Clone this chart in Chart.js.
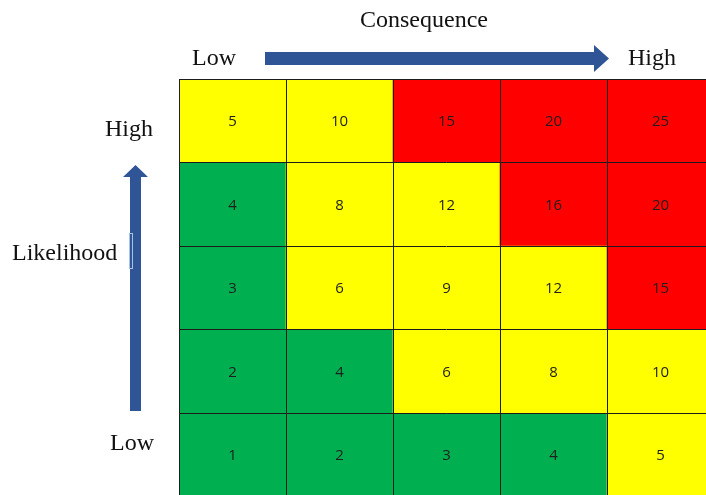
<!DOCTYPE html>
<html>
<head>
<meta charset="utf-8">
<title>Risk matrix</title>
<script src="https://cdn.jsdelivr.net/npm/chart.js@4/dist/chart.umd.min.js"></script>
<style>
    html, body { margin: 0; padding: 0; background: #fff; overflow: hidden; }
    #wrap { position: relative; width: 706px; height: 495px; overflow: hidden; }
    #riskChart { position: absolute; left: 0; top: 0; }
</style>
</head>
<body>
<div id="wrap"><canvas id="riskChart" width="740" height="500"></canvas></div>
<script>
// Consequence across, likelihood up (row 0 = likelihood 1, bottom row)
const consequenceLevels = ['1', '2', '3', '4', '5'];
const likelihoodLevels = ['1', '2', '3', '4', '5'];
const riskScores = [
    [1, 2, 3, 4, 5],
    [2, 4, 6, 8, 10],
    [3, 6, 9, 12, 15],
    [4, 8, 12, 16, 20],
    [5, 10, 15, 20, 25]
];
const riskRatings = [
    ['L', 'L', 'L', 'L', 'M'],
    ['L', 'L', 'M', 'M', 'M'],
    ['L', 'M', 'M', 'M', 'H'],
    ['L', 'M', 'M', 'H', 'H'],
    ['M', 'M', 'H', 'H', 'H']
];
const ratingColors = { L: '#00b050', M: '#ffff00', H: '#ff0000' };

const arrowBlue = '#2f5597';
const serif = '"Liberation Serif", "DejaVu Serif", serif';

// numbers in the middle of each cell
const cellLabels = {
    id: 'cellLabels',
    afterDraw(chart) {
        const ctx = chart.ctx;
        ctx.save();
        ctx.font = '15px "Open Sans", "Liberation Sans", sans-serif';
        ctx.fillStyle = '#1e1e1e';
        ctx.textAlign = 'center';
        ctx.textBaseline = 'middle';
        chart.data.datasets.forEach((ds, i) => {
            chart.getDatasetMeta(i).data.forEach((bar, j) => {
                ctx.fillText(String(riskScores[i][j]), bar.x, (bar.y + bar.base) / 2 + 1);
            });
        });
        ctx.restore();
    }
};

// axis names and the two blue arrows
const decorations = {
    id: 'decorations',
    afterDraw(chart) {
        const ctx = chart.ctx;
        ctx.save();
        ctx.fillStyle = arrowBlue;

        // horizontal arrow
        ctx.beginPath();
        ctx.moveTo(265, 52);
        ctx.lineTo(594, 52);
        ctx.lineTo(594, 45);
        ctx.lineTo(609, 58.5);
        ctx.lineTo(594, 72);
        ctx.lineTo(594, 65);
        ctx.lineTo(265, 65);
        ctx.closePath();
        ctx.fill();

        // vertical arrow
        ctx.beginPath();
        ctx.moveTo(130, 411);
        ctx.lineTo(130, 177);
        ctx.lineTo(123, 177);
        ctx.lineTo(135.5, 165);
        ctx.lineTo(148, 177);
        ctx.lineTo(141, 177);
        ctx.lineTo(141, 411);
        ctx.closePath();
        ctx.fill();

        // stray text box edge next to "Likelihood"
        ctx.strokeStyle = '#a9c4de';
        ctx.lineWidth = 1;
        ctx.strokeRect(129.5, 233.5, 3, 35);

        ctx.fillStyle = '#111';
        ctx.font = '24px ' + serif;
        ctx.textBaseline = 'alphabetic';
        ctx.textAlign = 'center';
        ctx.fillText('Consequence', 424, 27);
        ctx.textAlign = 'left';
        ctx.fillText('Low', 192, 65);
        ctx.fillText('High', 628, 65);
        ctx.fillText('High', 105, 136);
        ctx.fillText('Likelihood', 12, 260);
        ctx.fillText('Low', 110, 450);
        ctx.restore();
    }
};

const datasets = likelihoodLevels.map((lvl, i) => ({
    label: 'Likelihood ' + lvl,
    data: consequenceLevels.map(() => 1),
    backgroundColor: riskRatings[i].map((r) => ratingColors[r]),
    borderWidth: 0,
    barPercentage: 1,
    categoryPercentage: 1
}));

const ctx = document.getElementById('riskChart').getContext('2d');
new Chart(ctx, {
    type: 'bar',
    data: {
        labels: consequenceLevels,
        datasets: datasets
    },
    options: {
        responsive: false,
        animation: false,
        devicePixelRatio: 1,
        layout: {
            padding: { left: 179, top: 79, right: 26, bottom: 3 }
        },
        plugins: {
            legend: { display: false },
            tooltip: { enabled: false }
        },
        scales: {
            x: {
                stacked: true,
                ticks: { display: false, padding: 0 },
                grid: { color: '#1c1c1c', lineWidth: 1, drawTicks: false, offset: true, z: 1 },
                border: { display: false }
            },
            y: {
                stacked: true,
                min: 0,
                max: 5,
                ticks: { display: false, stepSize: 1, padding: 0 },
                grid: { color: '#1c1c1c', lineWidth: 1, drawTicks: false, z: 1 },
                border: { display: false }
            }
        }
    },
    plugins: [cellLabels, decorations]
});
</script>
</body>
</html>
